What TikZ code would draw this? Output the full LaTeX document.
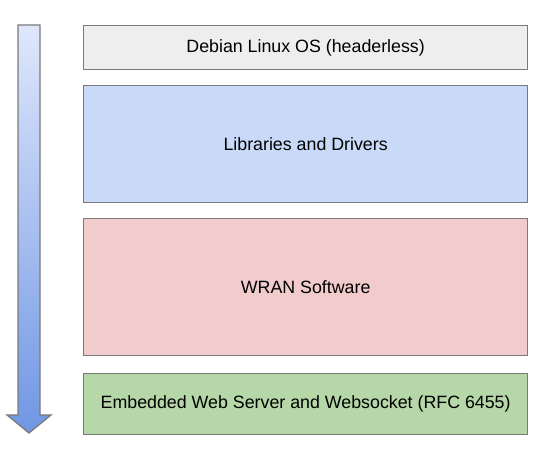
\documentclass[tikz,border=0pt]{standalone}
\usepackage{fontspec}
\setmainfont{Liberation Sans}
\definecolor{osgray}{HTML}{EEEEEE}
\definecolor{libblue}{HTML}{C9DAF8}
\definecolor{wranred}{HTML}{F2CCCC}
\definecolor{webgreen}{HTML}{B6D7A8}
\definecolor{edgegray}{HTML}{7A7A7A}
\definecolor{arrtop}{HTML}{DFE7FB}
\definecolor{arrbot}{HTML}{7096E4}
\begin{document}
\begin{tikzpicture}[x=1pt,y=1pt,
  layer/.style={draw=edgegray,line width=1.3pt,minimum width=444pt,inner sep=0pt,
    font=\fontsize{17.8}{20}\selectfont,text=black,anchor=north west}]
\useasboundingbox (0,0) rectangle (554,468);
\node[layer,fill=osgray,minimum height=44pt] (os) at (83,443) {Debian Linux OS (headerless)};
\node[layer,fill=libblue,minimum height=117pt] (lib) at (83,383) {Libraries and Drivers};
\node[layer,fill=wranred,minimum height=137pt] (wran) at (83,250) {WRAN Software};
\node[layer,fill=webgreen,minimum height=61pt] (web) at (83,95) {Embedded Web Server and Websocket (RFC 6455)};
\shade[top color=arrtop,bottom color=arrbot,draw=edgegray,line width=1.3pt,line join=miter]
  (18,443) -- (40,443) -- (40,53) -- (51,53) -- (29,35) -- (7,53) -- (18,53) -- cycle;
\end{tikzpicture}
\end{document}
